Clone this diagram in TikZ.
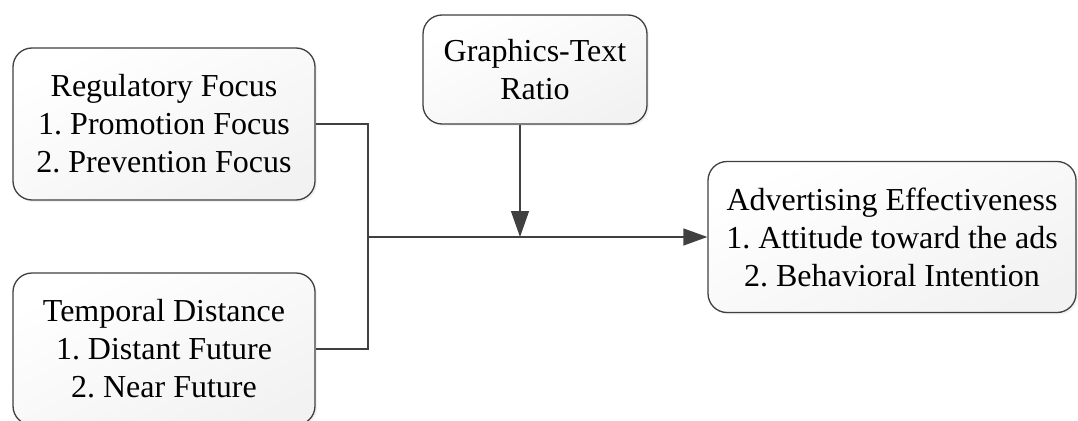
\documentclass[tikz,border=0pt]{standalone}
\usepackage{fontspec}
\setmainfont{Liberation Serif}
\usetikzlibrary{arrows.meta,shadows}
\definecolor{linegray}{HTML}{404040}
\tikzset{
  box/.style={draw=linegray, line width=1.3pt, rounded corners=19pt,
    top color=white, bottom color=black!5, shading angle=25,
    drop shadow={opacity=0.10, shadow xshift=2pt, shadow yshift=-2pt},
    align=center, font=\frenchspacing\fontsize{32}{38}\selectfont, inner sep=0pt},
  conn/.style={draw=linegray, line width=1.3pt},
  arr/.style={conn, -{Triangle[length=24pt,width=17pt]}},
  darr/.style={conn, -{Triangle[length=26pt,width=18pt]}}
}
\begin{document}
\begin{tikzpicture}[x=1pt,y=-1pt]
\useasboundingbox (0,0) rectangle (1078,420);
\clip (0,0) rectangle (1078,420);
\node[box, minimum width=302pt, minimum height=152pt] (A) at (164,124)
  {Regulatory Focus\\1. Promotion Focus\\2. Prevention Focus};
\node[box, minimum width=302pt, minimum height=152pt] (B) at (164,349)
  {Temporal Distance\\1. Distant Future\\2. Near Future};
\node[box, minimum width=224pt, minimum height=109pt] (C) at (535,69.5)
  {Graphics-Text\\Ratio};
\node[box, minimum width=368pt, minimum height=151pt] (D) at (892,237)
  {Advertising Effectiveness\\1. Attitude toward the ads\\2. Behavioral Intention};
\coordinate (j) at (368,237);
\coordinate (m) at (520,237);
\draw[conn] (A.east) -| (j) |- (B.east);
\draw[arr] (j) -- (D.west);
\draw[darr] (m |- C.south) -- (m);
\end{tikzpicture}
\end{document}
